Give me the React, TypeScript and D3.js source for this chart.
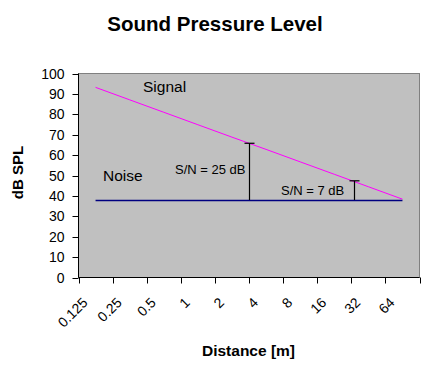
import React from "react";
import * as d3 from "d3";

const categories = ["0.125", "0.25", "0.5", "1", "2", "4", "8", "16", "32", "64"];
const signalValues = [93.2, 87.1, 81.0, 74.9, 68.8, 62.8, 56.7, 50.6, 44.5, 38.4];
const noiseValues = [38, 38, 38, 38, 38, 38, 38, 38, 38, 38];
const yTicks = [0, 10, 20, 30, 40, 50, 60, 70, 80, 90, 100];
const markerIndex = [4.51, 7.57];
const markerTop = [65.8, 47.4];
const markerBottom = [38, 38];
const markerLabels = ["S/N = 25 dB", "S/N = 7 dB"];
const seriesLabels = ["Signal", "Noise"];

const W = 436;
const H = 381;
const FONT = "'Liberation Sans', Arial, sans-serif";

export default function App() {
  const left = 78.5, right = 419.5, top = 73.5, bottom = 277.5;
  const x = d3.scaleBand<string>().domain(categories).range([left, right]).paddingInner(0).paddingOuter(0);
  const bw = x.bandwidth();
  const cx = (c: string) => (x(c) as number) + bw / 2;
  const xi = (i: number) => left + (i + 0.5) * bw;
  const y = d3.scaleLinear().domain([0, 100]).range([bottom, top]);

  const line = d3
    .line<number>()
    .x((_, i) => cx(categories[i]))
    .y((d) => y(d));

  const boundaries = [...categories.map((c) => x(c) as number), right];

  return (
    <svg width={W} height={H} style={{ position: "absolute", left: 0, top: 0, background: "#fff" }} fontFamily={FONT}>
      <rect x={0} y={0} width={W} height={H} fill="#fff" />
      <text x={215} y={31} textAnchor="middle" fontSize={20.5} fontWeight="bold" fill="#000">
        Sound Pressure Level
      </text>
      {/* plot area */}
      <rect x={left} y={top} width={right - left} height={bottom - top} fill="#C0C0C0" stroke="#808080" strokeWidth={1} />
      {/* series */}
      <path d={line(noiseValues) || ""} fill="none" stroke="#000080" strokeWidth={1.5} transform="translate(0 0.5)" />
      <path d={line(signalValues) || ""} fill="none" stroke="#FF00FF" strokeWidth={1} />
      {/* S/N markers */}
      {markerIndex.map((mi, k) => {
        const mx = Math.round(xi(mi)) + 0.5;
        return (
          <g key={k} stroke="#000" strokeWidth={1.2}>
            <line x1={mx} x2={mx} y1={y(markerTop[k])} y2={y(markerBottom[k])} />
            <line x1={mx - 5} x2={mx + 5} y1={y(markerTop[k])} y2={y(markerTop[k])} />
          </g>
        );
      })}
      <text x={143} y={92} fontSize={15.5} fill="#000">{seriesLabels[0]}</text>
      <text x={103} y={181} fontSize={15.5} fill="#000">{seriesLabels[1]}</text>
      <text x={175} y={174} fontSize={13} fill="#000">{markerLabels[0]}</text>
      <text x={281} y={195} fontSize={13} fill="#000">{markerLabels[1]}</text>
      {/* y axis */}
      <line x1={left} x2={left} y1={top} y2={bottom} stroke="#000" />
      {yTicks.map((t) => (
        <g key={t}>
          <line x1={left - 6} x2={left} y1={Math.round(y(t)) + 0.5} y2={Math.round(y(t)) + 0.5} stroke="#000" />
          <text x={left - 14} y={y(t) + 5} textAnchor="end" fontSize={14} fill="#000">
            {t}
          </text>
        </g>
      ))}
      {/* x axis */}
      <line x1={left} x2={right} y1={bottom} y2={bottom} stroke="#000" />
      {boundaries.map((b, i) => (
        <line key={i} x1={Math.round(b) + 0.5} x2={Math.round(b) + 0.5} y1={bottom} y2={bottom + 6} stroke="#000" />
      ))}
      {categories.map((c) => {
        const px = cx(c) - 7;
        const py = bottom + 26;
        return (
          <text key={c} x={px} y={py} textAnchor="end" fontSize={14} fill="#000" transform={`rotate(-45 ${px} ${py})`}>
            {c}
          </text>
        );
      })}
      <text x={248.5} y={356} textAnchor="middle" fontSize={15.5} fontWeight="bold" fill="#000">
        Distance [m]
      </text>
      <text
        x={0}
        y={0}
        transform={`translate(23 172.5) rotate(-90)`}
        textAnchor="middle"
        fontSize={15}
        fontWeight="bold"
        fill="#000"
      >
        dB SPL
      </text>
    </svg>
  );
}
